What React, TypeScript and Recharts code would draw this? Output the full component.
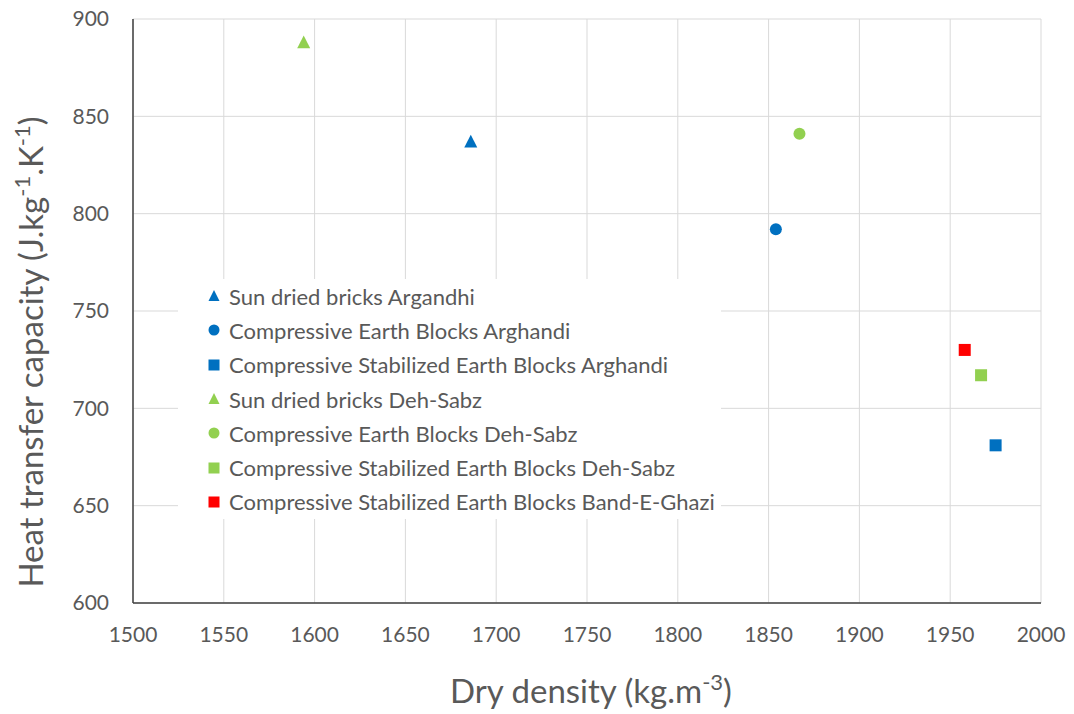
import React from "react";
import {
	ScatterChart,
	Scatter,
	XAxis,
	YAxis,
	CartesianGrid,
} from "recharts";

const BLUE = "#0070c0";
const GREEN = "#92d050";
const RED = "#ff0000";
const TEXT = "#595959";
const FONT = "Lato, 'Open Sans', sans-serif";

const xTicks = [1500, 1550, 1600, 1650, 1700, 1750, 1800, 1850, 1900, 1950, 2000];
const yTicks = [600, 650, 700, 750, 800, 850, 900];

const sunArghandi = [{ x: 1686, y: 837 }];
const cebArghandi = [{ x: 1854, y: 792 }];
const csebArghandi = [{ x: 1975, y: 681 }];
const sunDehSabz = [{ x: 1594, y: 888 }];
const cebDehSabz = [{ x: 1867, y: 841 }];
const csebDehSabz = [{ x: 1967, y: 717 }];
const csebBandEGhazi = [{ x: 1958, y: 730 }];

type Kind = "triangle" | "circle" | "square";

const series: { name: string; data: { x: number; y: number }[]; color: string; kind: Kind }[] = [
	{ name: "Sun dried bricks Argandhi", data: sunArghandi, color: BLUE, kind: "triangle" },
	{ name: "Compressive Earth Blocks Arghandi", data: cebArghandi, color: BLUE, kind: "circle" },
	{ name: "Compressive Stabilized Earth Blocks Arghandi", data: csebArghandi, color: BLUE, kind: "square" },
	{ name: "Sun dried bricks Deh-Sabz", data: sunDehSabz, color: GREEN, kind: "triangle" },
	{ name: "Compressive Earth Blocks Deh-Sabz", data: cebDehSabz, color: GREEN, kind: "circle" },
	{ name: "Compressive Stabilized Earth Blocks Deh-Sabz", data: csebDehSabz, color: GREEN, kind: "square" },
	{ name: "Compressive Stabilized Earth Blocks Band-E-Ghazi", data: csebBandEGhazi, color: RED, kind: "square" },
];

function Marker({ cx, cy, color, kind, s }: { cx: number; cy: number; color: string; kind: Kind; s: number }) {
	if (kind === "triangle") {
		const h = s * 0.9;
		return (
			<path
				d={`M${cx},${cy - h / 2 - 1} L${cx + s / 2},${cy + h / 2} L${cx - s / 2},${cy + h / 2} Z`}
				fill={color}
			/>
		);
	}
	if (kind === "circle") return <circle cx={cx} cy={cy} r={s / 2} fill={color} />;
	return <rect x={cx - s / 2} y={cy - s / 2} width={s} height={s} fill={color} />;
}

// legend box sits over the plot, like the original
function LegendBox() {
	return (
		<div
			style={{
				position: "absolute",
				left: 178,
				top: 279,
				background: "#fff",
				padding: "0 6px 0 28px",
				fontFamily: FONT,
				fontSize: 22,
				color: TEXT,
			}}
		>
			{series.map((s) => (
				<div key={s.name} style={{ display: "flex", alignItems: "center", height: 34.3 }}>
					<svg width={18} height={14} style={{ marginRight: 5 }}>
						<Marker cx={8} cy={7} color={s.color} kind={s.kind} s={11} />
					</svg>
					<span>{s.name}</span>
				</div>
			))}
		</div>
	);
}

export default function App() {
	return (
		<div style={{ position: "relative", width: 1074, height: 714, background: "#fff" }}>
			<style>{`body{margin:0}`}</style>
			<ScatterChart
				width={1074}
				height={714}
				margin={{ top: 19, right: 33, left: 0, bottom: 0 }}
			>
				<CartesianGrid stroke="#d9d9d9" strokeWidth={1} />
				<XAxis
					type="number"
					dataKey="x"
					domain={[1500, 2000]}
					ticks={xTicks}
					interval={0}
					height={111}
					tickLine={false}
					axisLine={{ stroke: "#404040", strokeWidth: 1.5 }}
					tick={{ fill: TEXT, fontSize: 21, fontFamily: FONT }}
					tickMargin={18}
					label={() => (
						<text x={591} y={703} textAnchor="middle" fill={TEXT} fontSize={33} fontFamily={FONT}>
							<tspan>Dry density (kg.m</tspan>
							<tspan dy={-13} fontSize={22}>-3</tspan>
							<tspan dy={13}>)</tspan>
						</text>
					)}
				/>
				<YAxis
					type="number"
					dataKey="y"
					domain={[600, 900]}
					ticks={yTicks}
					interval={0}
					width={133}
					tickLine={false}
					axisLine={{ stroke: "#404040", strokeWidth: 1.5 }}
					tick={{ fill: TEXT, fontSize: 21, fontFamily: FONT }}
					tickMargin={18}
					label={() => (
						<text
							x={43}
							y={352}
							transform="rotate(-90 43 352)"
							textAnchor="middle"
							fill={TEXT}
							fontSize={33}
							fontFamily={FONT}
						>
							<tspan>Heat transfer capacity (J.kg</tspan>
							<tspan dy={-13} fontSize={22}>-1</tspan>
							<tspan dy={13}>.K</tspan>
							<tspan dy={-13} fontSize={22}>-1</tspan>
							<tspan dy={13}>)</tspan>
						</text>
					)}
				/>
				{series.map((s) => (
					<Scatter
						key={s.name}
						name={s.name}
						data={s.data}
						fill={s.color}
						isAnimationActive={false}
						shape={(p: any) => (
							<Marker cx={p.cx} cy={p.cy} color={s.color} kind={s.kind} s={s.kind === "triangle" ? 13 : 12} />
						)}
					/>
				))}
			</ScatterChart>
			<LegendBox />
		</div>
	);
}
